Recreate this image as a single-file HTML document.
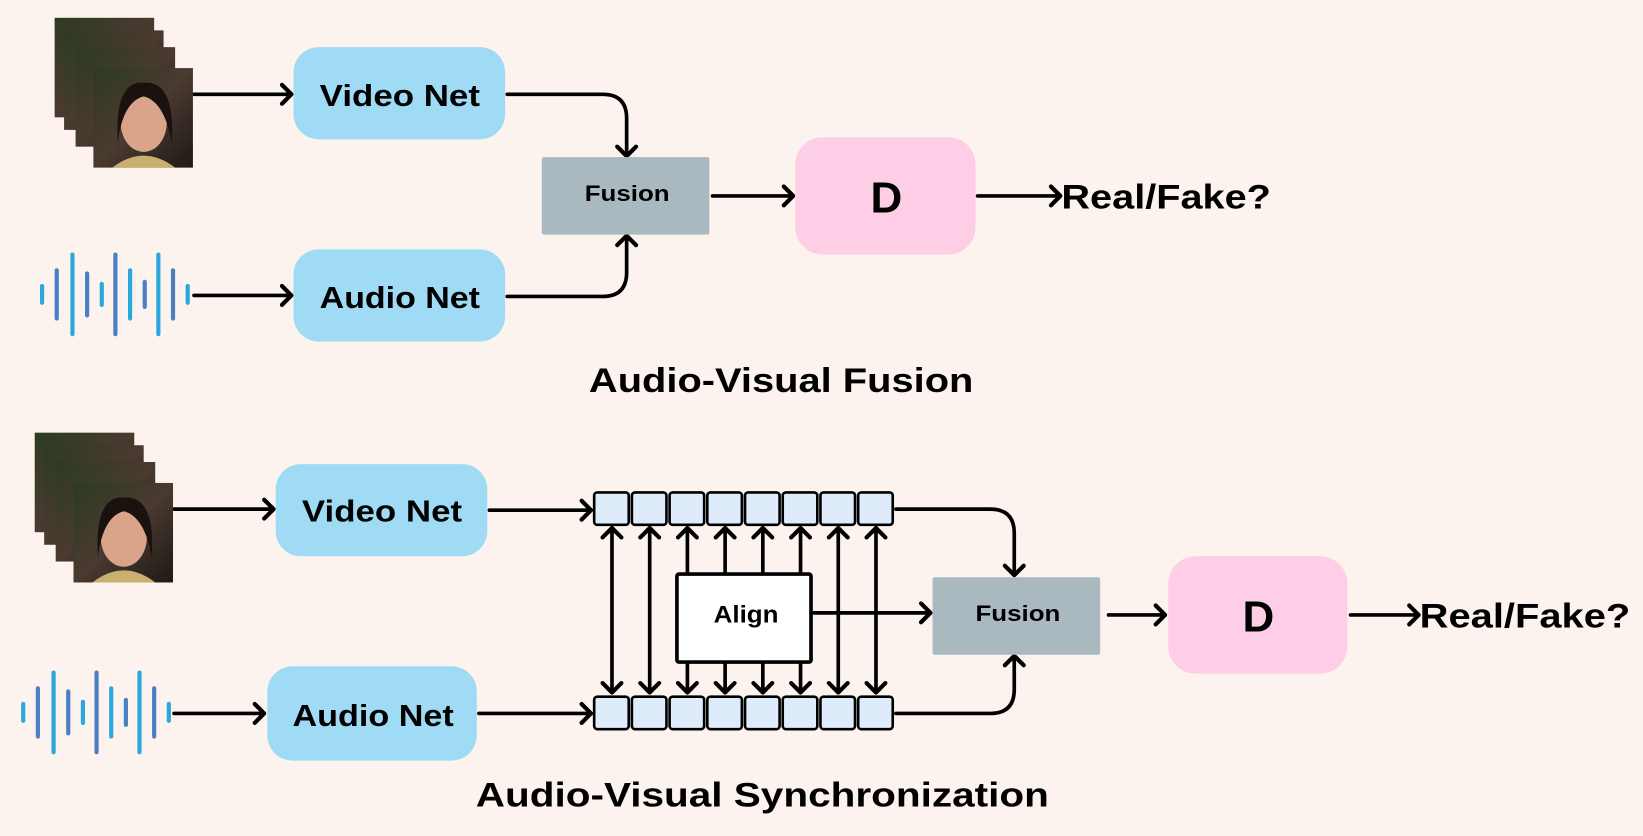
<!DOCTYPE html>
<html><head><meta charset="utf-8"><style>
html,body{margin:0;padding:0;background:#fdf3ee}
svg{display:block}
text{font-family:"Liberation Sans",sans-serif;font-weight:bold;fill:#000}
</style></head><body>
<svg width="1643" height="836" viewBox="0 0 1568 798" xmlns="http://www.w3.org/2000/svg">
<defs>
<linearGradient id="face" x1="0" y1="0" x2="1" y2="1">
<stop offset="0" stop-color="#2c3a22"/><stop offset="0.5" stop-color="#4a3a30"/><stop offset="1" stop-color="#1d1a16"/>
</linearGradient>
<g id="ah"><path d="M-9,-9 L0,0 L-9,9" fill="none" stroke="#000" stroke-width="4" stroke-linecap="round" stroke-linejoin="round"/></g>
<g id="faces">
<rect x="0" y="0" width="95" height="95" fill="url(#face)"/>
<rect x="9" y="12" width="95" height="95" fill="url(#face)"/>
<rect x="20" y="28" width="95" height="95" fill="url(#face)"/>
<rect x="37" y="48" width="95" height="95" fill="url(#face)"/>
<ellipse cx="85" cy="100" rx="22" ry="28" fill="#d9a48a"/>
<path d="M55,143 Q85,120 115,143 Z" fill="#c9b070"/>
<path d="M60,100 Q62,60 85,62 Q110,60 112,100 L112,120 Q105,80 85,75 Q65,80 60,120 Z" fill="#1a120e"/>
</g>
<g id="wave">
<rect x="0" y="-10" width="4" height="20" rx="2" fill="#29a8de"/>
<rect x="14" y="-25" width="4" height="50" rx="2" fill="#4a7fc4"/>
<rect x="29" y="-40" width="4" height="80" rx="2" fill="#29a8de"/>
<rect x="43" y="-22" width="4" height="44" rx="2" fill="#4a7fc4"/>
<rect x="57" y="-12" width="4" height="24" rx="2" fill="#29a8de"/>
<rect x="70" y="-40" width="4" height="80" rx="2" fill="#4a7fc4"/>
<rect x="84" y="-25" width="4" height="50" rx="2" fill="#29a8de"/>
<rect x="98" y="-14" width="4" height="28" rx="2" fill="#4a7fc4"/>
<rect x="111" y="-40" width="4" height="80" rx="2" fill="#29a8de"/>
<rect x="125" y="-25" width="4" height="50" rx="2" fill="#4a7fc4"/>
<rect x="139" y="-10" width="4" height="20" rx="2" fill="#29a8de"/>
</g>
</defs>
<g fill="none" stroke="#000" stroke-width="3.5" stroke-linecap="round">
<path d="M185,90 H276"/><path d="M185,282 H276"/>
<path d="M484,90 H575 Q598,90 598,113 V147"/>
<path d="M484,283 H575 Q598,283 598,260 V227"/>
<path d="M680,187 H755"/><path d="M933,187 H1010"/>
<path d="M166,486 H259"/><path d="M166,681 H250"/>
<path d="M467,487 H562"/><path d="M457,681 H562"/>
<path d="M855,486 H945 Q968,486 968,509 V547"/>
<path d="M855,681 H945 Q968,681 968,658 V628"/>
<path d="M777,585 H886"/><path d="M1058,587 H1110"/><path d="M1289,587 H1352"/>
</g>
<g>
<use href="#ah" transform="translate(278,90)"/><use href="#ah" transform="translate(278,282)"/>
<use href="#ah" transform="translate(598,149) rotate(90)"/><use href="#ah" transform="translate(598,225) rotate(-90)"/>
<use href="#ah" transform="translate(757,187)"/><use href="#ah" transform="translate(1012,187)"/>
<use href="#ah" transform="translate(261,486)"/><use href="#ah" transform="translate(252,681)"/>
<use href="#ah" transform="translate(564,487)"/><use href="#ah" transform="translate(564,681)"/>
<use href="#ah" transform="translate(968,549) rotate(90)"/><use href="#ah" transform="translate(968,626) rotate(-90)"/>
<use href="#ah" transform="translate(888,585)"/><use href="#ah" transform="translate(1112,587)"/><use href="#ah" transform="translate(1354,587)"/>
</g>
<g fill="none" stroke="#000" stroke-width="3.5" stroke-linecap="round">
<path d="M584,505 V660"/><path d="M620,505 V660"/><path d="M800,505 V660"/><path d="M836,505 V660"/>
<path d="M656,505 V547"/><path d="M692,505 V547"/><path d="M728,505 V547"/><path d="M764,505 V547"/>
<path d="M656,633 V660"/><path d="M692,633 V660"/><path d="M728,633 V660"/><path d="M764,633 V660"/>
</g>
<g>
<use href="#ah" transform="translate(584,504) rotate(-90)"/><use href="#ah" transform="translate(620,504) rotate(-90)"/>
<use href="#ah" transform="translate(656,504) rotate(-90)"/><use href="#ah" transform="translate(692,504) rotate(-90)"/>
<use href="#ah" transform="translate(728,504) rotate(-90)"/><use href="#ah" transform="translate(764,504) rotate(-90)"/>
<use href="#ah" transform="translate(800,504) rotate(-90)"/><use href="#ah" transform="translate(836,504) rotate(-90)"/>
<use href="#ah" transform="translate(584,661) rotate(90)"/><use href="#ah" transform="translate(620,661) rotate(90)"/>
<use href="#ah" transform="translate(656,661) rotate(90)"/><use href="#ah" transform="translate(692,661) rotate(90)"/>
<use href="#ah" transform="translate(728,661) rotate(90)"/><use href="#ah" transform="translate(764,661) rotate(90)"/>
<use href="#ah" transform="translate(800,661) rotate(90)"/><use href="#ah" transform="translate(836,661) rotate(90)"/>
</g>
<g fill="#ddebfb" stroke="#000" stroke-width="2.5">
<rect x="567" y="470" width="33" height="31" rx="3"/><rect x="603" y="470" width="33" height="31" rx="3"/>
<rect x="639" y="470" width="33" height="31" rx="3"/><rect x="675" y="470" width="33" height="31" rx="3"/>
<rect x="711" y="470" width="33" height="31" rx="3"/><rect x="747" y="470" width="33" height="31" rx="3"/>
<rect x="783" y="470" width="33" height="31" rx="3"/><rect x="819" y="470" width="33" height="31" rx="3"/>
<rect x="567" y="665" width="33" height="31" rx="3"/><rect x="603" y="665" width="33" height="31" rx="3"/>
<rect x="639" y="665" width="33" height="31" rx="3"/><rect x="675" y="665" width="33" height="31" rx="3"/>
<rect x="711" y="665" width="33" height="31" rx="3"/><rect x="747" y="665" width="33" height="31" rx="3"/>
<rect x="783" y="665" width="33" height="31" rx="3"/><rect x="819" y="665" width="33" height="31" rx="3"/>
</g>
<rect x="646" y="548" width="128" height="84" fill="#fff" stroke="#000" stroke-width="3.5" rx="2"/>
<text x="681" y="594" font-size="23" textLength="62" lengthAdjust="spacingAndGlyphs">Align</text>
<rect x="280" y="45" width="202" height="88" rx="24" fill="#a0dbf5"/>
<rect x="280" y="238" width="202" height="88" rx="24" fill="#a0dbf5"/>
<rect x="517" y="150" width="160" height="74" rx="2" fill="#aab8bf"/>
<rect x="759" y="131" width="172" height="112" rx="26" fill="#fecde6"/>
<rect x="263" y="443" width="202" height="88" rx="24" fill="#a0dbf5"/>
<rect x="255" y="636" width="200" height="90" rx="24" fill="#a0dbf5"/>
<rect x="890" y="551" width="160" height="74" rx="2" fill="#aab8bf"/>
<rect x="1115" y="531" width="171" height="112" rx="26" fill="#fecde6"/>
<g font-size="29" lengthAdjust="spacingAndGlyphs">
<text x="305" y="101" textLength="153" lengthAdjust="spacingAndGlyphs">Video Net</text>
<text x="305" y="294" textLength="153" lengthAdjust="spacingAndGlyphs">Audio Net</text>
<text x="288" y="498" textLength="153" lengthAdjust="spacingAndGlyphs">Video Net</text>
<text x="279" y="693" textLength="154" lengthAdjust="spacingAndGlyphs">Audio Net</text>
</g>
<text x="558" y="192" font-size="21" textLength="81" lengthAdjust="spacingAndGlyphs">Fusion</text>
<text x="931" y="593" font-size="21" textLength="81" lengthAdjust="spacingAndGlyphs">Fusion</text>
<text x="846" y="203" font-size="42" text-anchor="middle">D</text>
<text x="1201" y="603" font-size="42" text-anchor="middle">D</text>
<text x="1013" y="199" font-size="33" textLength="200" lengthAdjust="spacingAndGlyphs">Real/Fake?</text>
<text x="1355" y="599" font-size="33" textLength="201" lengthAdjust="spacingAndGlyphs">Real/Fake?</text>
<text x="562" y="374" font-size="33" textLength="367" lengthAdjust="spacingAndGlyphs">Audio-Visual Fusion</text>
<text x="454" y="770" font-size="33" textLength="547" lengthAdjust="spacingAndGlyphs">Audio-Visual Synchronization</text>
<use href="#faces" transform="translate(52,17)"/>
<use href="#faces" transform="translate(33,413)"/>
<use href="#wave" transform="translate(38,281)"/>
<use href="#wave" transform="translate(20,680)"/>
</svg>
</body></html>
